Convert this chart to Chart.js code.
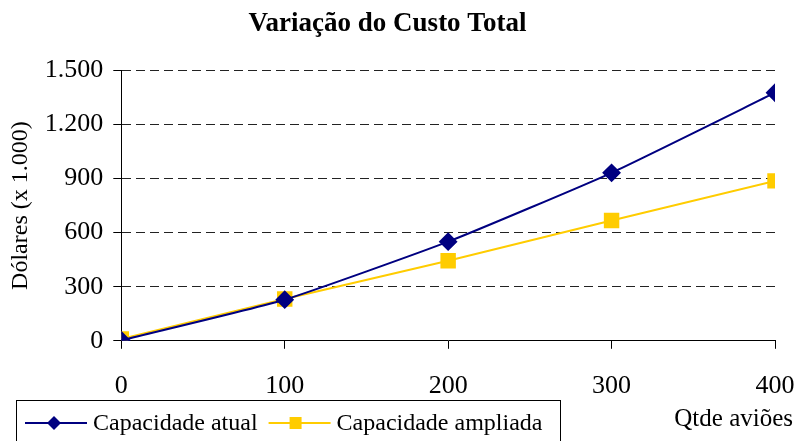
<!DOCTYPE html>
<html>
<head>
<meta charset="utf-8">
<script src="https://cdn.jsdelivr.net/npm/chart.js@4"></script>
<style>
  html, body { margin: 0; padding: 0; background: #fff; }
  #wrap { width: 797px; height: 441px; }
</style>
</head>
<body>
<div id="wrap"><canvas id="custoChart" width="797" height="441"></canvas></div>
<script>
"use strict";

// data
let qtdAvioes = [0, 100, 200, 300, 400];
let capacidadeAtual = [3, 228, 550, 932, 1376];
let capacidadeAmpliada = [10, 232, 444, 667, 887];
let yTicks = [0, 300, 600, 900, 1200, 1500];
let xTitle = "Qtde aviões";

const serif = "'Liberation Serif', 'Times New Roman', serif";

function toPoints(xs, ys) {
  let pts = [];
  for (let i = 0; i < xs.length; i++) {
    pts.push({ x: xs[i], y: ys[i] });
  }
  return pts;
}

// boxed legend + x axis title at the bottom, like the original
const boxLegend = {
  id: "boxLegend",
  afterDraw(chart) {
    const ctx = chart.ctx;
    ctx.save();
    ctx.strokeStyle = "#000";
    ctx.lineWidth = 1;
    ctx.strokeRect(16.5, 400.5, 544, 45);
    ctx.font = "24px " + serif;
    ctx.textBaseline = "middle";
    let x = 25;
    const y = 423;
    chart.data.datasets.forEach(function(ds) {
      ctx.strokeStyle = ds.borderColor;
      ctx.lineWidth = 2;
      ctx.beginPath();
      ctx.moveTo(x, y);
      ctx.lineTo(x + 62, y);
      ctx.stroke();
      ctx.fillStyle = ds.backgroundColor;
      ctx.beginPath();
      if (ds.pointStyle === "rectRot") {
        ctx.moveTo(x + 29, y - 7);
        ctx.lineTo(x + 36, y);
        ctx.lineTo(x + 29, y + 7);
        ctx.lineTo(x + 22, y);
      } else {
        ctx.rect(x + 21, y - 6, 12, 12);
      }
      ctx.fill();
      ctx.fillStyle = "#000";
      ctx.fillText(ds.label, x + 68, y + 1);
      x += 68 + ctx.measureText(ds.label).width + 11;
    });
    // x axis title, right aligned under the last tick
    ctx.font = "25px " + serif;
    ctx.textAlign = "right";
    ctx.fillText(xTitle, 793, 419);
    ctx.restore();
  }
};

new Chart(document.getElementById("custoChart"), {
  type: "line",
  data: {
    datasets: [
      {
        label: "Capacidade atual",
        data: toPoints(qtdAvioes, capacidadeAtual),
        borderColor: "#000080",
        backgroundColor: "#000080",
        borderWidth: 2,
        pointStyle: "rectRot",
        pointRadius: 8,
        pointHoverRadius: 8,
        tension: 0.15
      },
      {
        label: "Capacidade ampliada",
        data: toPoints(qtdAvioes, capacidadeAmpliada),
        borderColor: "#FFCC00",
        backgroundColor: "#FFCC00",
        borderWidth: 2,
        pointStyle: "rect",
        pointRadius: 9.5,
        pointHoverRadius: 9.5,
        tension: 0
      }
    ]
  },
  options: {
    responsive: false,
    animation: false,
    layout: { padding: { left: 0, right: 22, top: 0, bottom: 17 } },
    plugins: {
      legend: { display: false },
      tooltip: { enabled: false },
      title: {
        display: true,
        text: "Variação do Custo Total",
        color: "#000",
        font: { family: serif, size: 27, weight: "bold" },
        padding: { top: 8, bottom: 30 }
      }
    },
    scales: {
      x: {
        type: "linear",
        min: 0,
        max: 400,
        afterBuildTicks: function(axis) {
          axis.ticks = qtdAvioes.map(v => ({ value: v }));
        },
        // the label gap should not eat into the right margin
        afterFit: function(axis) {
          axis.paddingRight = 0;
          axis.paddingLeft = 0;
        },
        border: { color: "#000", width: 1 },
        grid: { drawOnChartArea: false, tickLength: 8, color: "#000" },
        ticks: {
          color: "#000",
          padding: 22,
          maxRotation: 0,
          font: { family: serif, size: 26 }
        }
      },
      y: {
        min: 0,
        max: 1500,
        afterBuildTicks: function(axis) {
          axis.ticks = yTicks.map(v => ({ value: v }));
        },
        border: { color: "#000", width: 1, dash: [9, 5] },
        grid: {
          color: function(c) { return c.tick && c.tick.value === 0 ? "rgba(0,0,0,0)" : "#222"; },
          tickLength: 8,
          tickColor: "#000",
          tickBorderDash: []
        },
        ticks: {
          color: "#000",
          padding: 10,
          font: { family: serif, size: 26 },
          callback: function(v) {
            return String(v).replace(/\B(?=(\d{3})+(?!\d))/g, ".");
          }
        },
        title: {
          display: true,
          text: "Dólares (x 1.000)",
          color: "#000",
          font: { family: serif, size: 24 },
          padding: { top: 6, bottom: 0 }
        }
      }
    }
  },
  plugins: [boxLegend]
});
</script>
</body>
</html>
